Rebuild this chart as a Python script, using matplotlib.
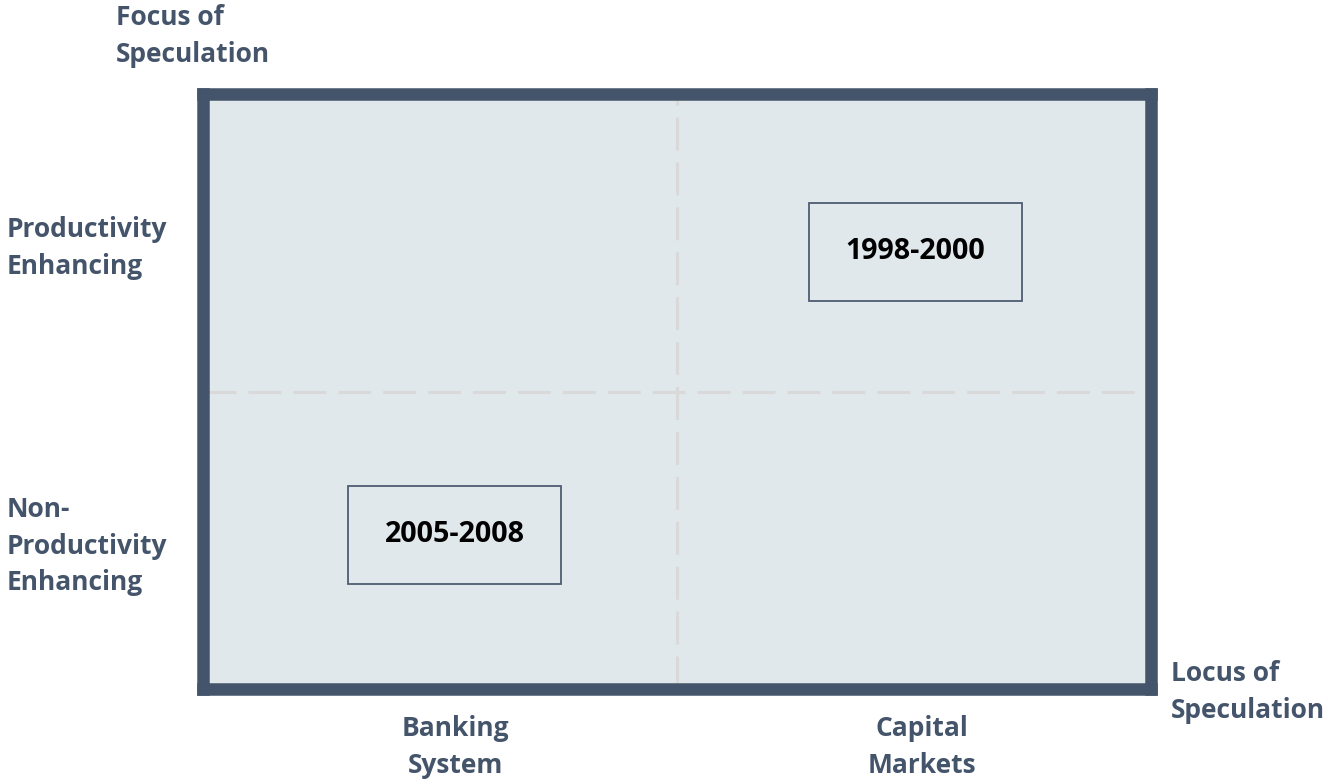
import matplotlib.pyplot as plt
from matplotlib.patches import Rectangle

# quadrant axis labels
y_labels = ["Productivity\nEnhancing", "Non-\nProductivity\nEnhancing"]
x_labels = ["Banking\nSystem", "Capital\nMarkets"]
x_label_pos = [0.532, 1.517]
y_title = "Focus of\nSpeculation"
x_title = "Locus of\nSpeculation"

# episodes placed in the 2x2 grid (x: locus, y: focus)
periods = ["1998-2000", "2005-2008"]
period_x = [1.503, 0.531]
period_y = [1.469, 0.518]

W, H = 1327, 782
frame_col = "#44546A"
fill_col = "#E1E8EC"
font = "Open Sans"
fs = 19

fig = plt.figure(figsize=(W / 100, H / 100), dpi=100)
# axes spans the frame (line centres) in pixels
left, right, top, bottom = 203, 1151, 94, 689
ax = fig.add_axes([left / W, 1 - bottom / H, (right - left) / W, (bottom - top) / H])
ax.set_xlim(0, 2)
ax.set_ylim(0, 2)
ax.set_facecolor(fill_col)
for s in ax.spines.values():
    s.set_color(frame_col)
    s.set_linewidth(9)
ax.set_xticks([])
ax.set_yticks([])

# quadrant dividers
ax.axvline(1, color="#D9D9D9", lw=2.2, dashes=(10.8, 3.9), zorder=1)
ax.axhline(1, color="#D9D9D9", lw=2.2, dashes=(10.8, 3.9), zorder=1)

bw, bh = 0.449, 0.329
for label, x, y in zip(periods, period_x, period_y):
    ax.add_patch(Rectangle((x - bw / 2, y - bh / 2), bw, bh, facecolor="none",
                           edgecolor="#4F5D73", lw=1.3, zorder=2))
    ax.text(x, y, label, ha="center", va="center", fontsize=20.6, fontweight="bold",
            family=font, color="black", zorder=3)

# outside labels, placed in figure pixel coordinates
def ftxt(px, py, s, ha="left", va="center"):
    fig.text(px / W, 1 - py / H, s, ha=ha, va=va, fontsize=fs, fontweight="bold",
             family=font, color=frame_col, linespacing=1.47)

ftxt(116, 36, y_title)
ftxt(7, 248, y_labels[0])
ftxt(7, 546, y_labels[1])
for lab, x in zip(x_labels, x_label_pos):
    px = left + x / 2 * (right - left)
    ftxt(px, 747, lab, ha="center")
ftxt(1171, 692, x_title)

fig.savefig("out.png", dpi=100)
